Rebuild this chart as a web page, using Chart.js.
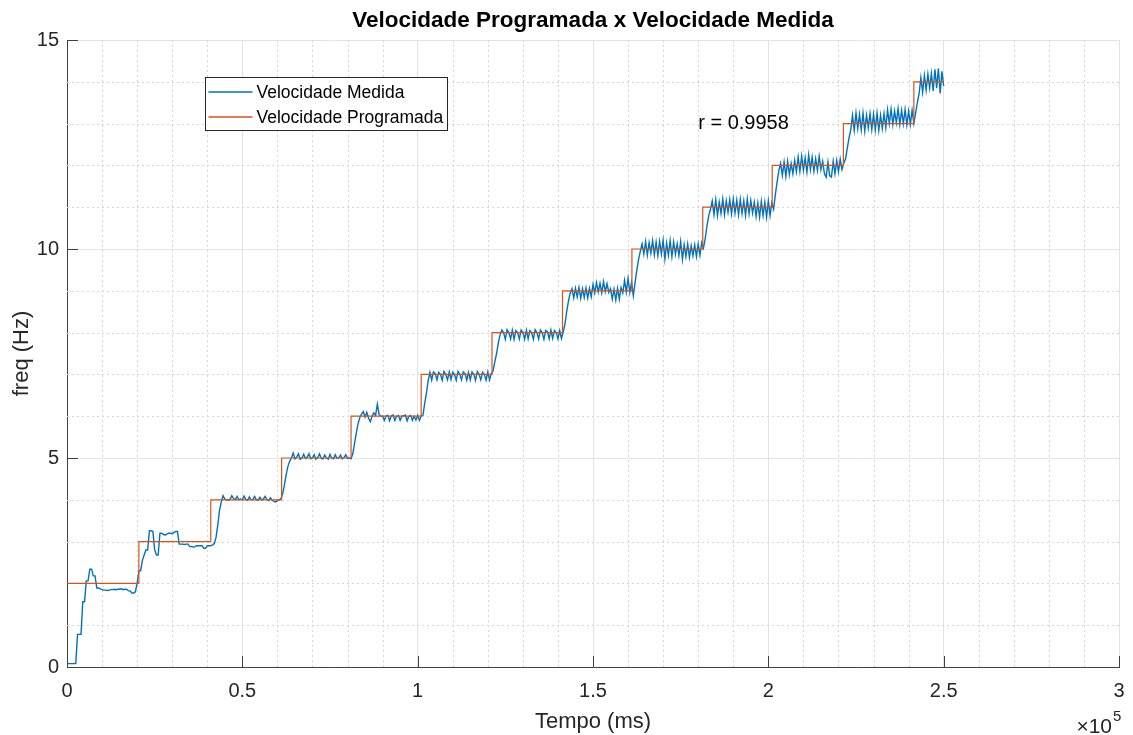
<!DOCTYPE html>
<html>
<head>
<meta charset="utf-8">
<title>Velocidade Programada x Velocidade Medida</title>
<script src="https://cdn.jsdelivr.net/npm/chart.js@4.4.1/dist/chart.umd.min.js"></script>
<style>
  html, body { margin: 0; padding: 0; background: #fff; }
  canvas { display: block; }
</style>
</head>
<body>
<canvas id="velocidadeChart" width="1133" height="735"></canvas>
<script>
// Velocidade programada (degraus): instante de cada degrau em ms e valor em Hz
const degrausTempo = [0, 20500, 41000, 61200, 81000, 101000, 121200, 141300, 161100, 181300, 201100, 221400, 241500, 250000];
const degrausValor = [2, 3, 4, 5, 6, 7, 8, 9, 10, 11, 12, 13, 14, 14];

// Velocidade medida, uma amostra a cada 500 ms (cada linha = 10 s)
const passoAmostra = 500;
const medida = [
  0.08, 0.08, 0.08, 0.08, 0.08, 0.08, 0.78, 0.78, 0.78, 1.56, 1.56, 2.06, 2.06, 2.34, 2.34, 2.18, 2.18, 1.89, 1.89, 1.87,
  1.85, 1.84, 1.84, 1.83, 1.84, 1.85, 1.85, 1.86, 1.85, 1.86, 1.86, 1.87, 1.85, 1.86, 1.86, 1.82, 1.82, 1.77, 1.77, 1.80,
  2.00, 2.30, 2.30, 2.55, 2.68, 2.80, 2.80, 3.26, 3.26, 3.24, 2.80, 2.68, 2.68, 3.20, 3.20, 3.17, 3.16, 3.18, 3.20, 3.20,
  3.19, 3.22, 3.24, 3.24, 2.94, 2.94, 2.94, 2.93, 2.94, 2.94, 2.88, 2.88, 2.87, 2.88, 2.90, 2.90, 2.90, 2.90, 2.84, 2.84,
  2.90, 2.90, 2.90, 2.92, 2.95, 3.10, 3.40, 3.75, 3.95, 4.10, 4.02, 4.00, 3.99, 4.01, 4.10, 4.03, 4.00, 4.08, 4.00, 4.02,
  4.00, 4.09, 4.01, 3.99, 4.07, 4.00, 4.01, 4.08, 4.00, 3.99, 4.06, 4.00, 4.02, 4.08, 4.00, 3.98, 4.05, 3.99, 3.96, 3.95,
  3.98, 4.00, 4.02, 4.15, 4.35, 4.60, 4.80, 4.92, 5.00, 5.12, 4.98, 5.02, 5.10, 4.97, 5.00, 5.09, 4.99, 5.02, 5.10, 4.98,
  5.00, 5.08, 4.97, 5.01, 5.10, 4.99, 4.98, 5.07, 5.00, 4.97, 5.09, 5.00, 4.98, 5.08, 4.99, 5.00, 5.07, 4.98, 5.01, 5.08,
  4.99, 5.00, 4.98, 5.10, 5.35, 5.60, 5.82, 5.97, 6.05, 6.11, 5.98, 6.09, 5.95, 5.87, 6.00, 6.08, 6.02, 6.29, 6.04, 6.00,
  6.00, 5.90, 6.01, 6.02, 5.89, 6.01, 6.03, 5.90, 6.00, 6.02, 5.90, 6.00, 6.01, 6.03, 5.89, 6.00, 6.02, 5.90, 6.00, 5.91,
  6.02, 5.90, 6.00, 6.02, 6.30, 6.55, 6.85, 7.05, 6.86, 7.06, 7.02, 6.87, 7.05, 7.00, 6.86, 7.07, 7.00, 6.87, 7.06, 6.88,
  7.05, 7.00, 6.86, 7.07, 7.00, 6.87, 7.06, 7.02, 6.86, 7.05, 6.87, 7.06, 7.00, 6.86, 7.07, 7.01, 6.87, 7.05, 7.00, 6.86,
  7.06, 6.87, 7.02, 7.08, 7.30, 7.50, 7.75, 7.95, 8.06, 8.00, 7.84, 8.07, 8.00, 7.85, 8.06, 7.84, 8.05, 8.00, 7.85, 8.06,
  8.00, 7.84, 8.06, 7.85, 8.05, 8.00, 7.84, 8.07, 8.00, 7.85, 8.06, 8.00, 7.84, 8.05, 8.02, 7.85, 8.06, 7.86, 8.05, 8.00,
  7.85, 8.05, 7.86, 8.02, 8.20, 8.50, 8.75, 8.95, 9.05, 8.83, 9.06, 8.85, 9.08, 8.82, 9.05, 8.84, 9.07, 8.83, 9.06, 8.86,
  9.15, 8.95, 9.20, 8.97, 9.18, 8.95, 9.22, 8.98, 9.17, 8.96, 9.05, 8.80, 9.04, 8.78, 9.06, 8.80, 9.08, 8.95, 9.25, 8.97,
  9.30, 8.96, 9.20, 8.88, 9.20, 9.50, 9.75, 9.95, 10.12, 9.88, 10.18, 9.85, 10.15, 9.90, 10.20, 9.86, 10.16, 9.84, 10.18, 9.88,
  10.21, 9.76, 10.14, 9.85, 10.20, 9.82, 10.17, 9.87, 10.12, 9.84, 10.18, 9.75, 10.10, 9.82, 10.12, 9.80, 10.08, 9.84, 10.10, 9.82,
  10.12, 9.85, 10.15, 10.02, 10.25, 10.55, 10.80, 10.95, 11.15, 10.82, 11.18, 10.80, 11.12, 10.85, 11.20, 10.82, 11.15, 10.88, 11.18, 10.84,
  11.20, 10.86, 11.17, 10.82, 11.19, 10.85, 11.15, 10.80, 11.20, 10.84, 11.16, 10.86, 11.12, 10.78, 11.10, 10.76, 11.14, 10.80, 11.12, 10.76,
  11.15, 10.80, 11.10, 10.95, 11.30, 11.60, 11.88, 12.05, 11.76, 12.08, 11.74, 12.10, 11.78, 12.05, 11.80, 12.12, 11.85, 12.20, 11.86, 12.22,
  11.88, 12.18, 11.84, 12.25, 11.90, 12.20, 11.86, 12.16, 11.88, 12.22, 11.90, 12.10, 11.80, 11.72, 12.08, 11.75, 11.72, 12.10, 11.80, 12.12,
  11.85, 12.15, 11.90, 12.05, 12.15, 12.40, 12.65, 12.85, 13.20, 12.84, 13.25, 12.88, 13.22, 12.85, 13.25, 12.82, 13.20, 12.90, 13.24, 12.86,
  13.22, 12.85, 13.25, 12.84, 13.20, 12.88, 13.24, 12.90, 13.33, 13.00, 13.35, 12.98, 13.30, 13.02, 13.36, 12.98, 13.32, 13.00, 13.34, 12.97,
  13.30, 12.98, 13.32, 13.00, 13.25, 13.50, 13.72, 14.10, 13.75, 14.15, 13.80, 14.18, 13.85, 14.20, 13.78, 14.30, 13.85, 14.32, 13.72, 14.25,
  13.90
];
const tempoMedida = medida.map((_, i) => i * passoAmostra);

// Ticks e grade
const ticksX = [0, 50000, 100000, 150000, 200000, 250000, 300000];
const ticksY = [0, 5, 10, 15];
const gradeMenorX = [10000, 20000, 30000, 40000, 60000, 70000, 80000, 90000, 110000, 120000, 130000, 140000,
  160000, 170000, 180000, 190000, 210000, 220000, 230000, 240000, 260000, 270000, 280000, 290000];
const gradeMenorY = [1, 2, 3, 4, 6, 7, 8, 9, 11, 12, 13, 14];

const coefCorrelacao = 'r = 0.9958';

const FONTE = "'Liberation Sans', Arial, Helvetica, sans-serif";
const corEixo = '#404040';
const corTexto = '#262626';
const corMedida = '#0072BD';
const corProgramada = '#D95319';

Chart.defaults.font.family = FONTE;

// grade secundaria pontilhada, marcas internas, titulo, legenda e anotacoes
const estiloMatlab = {
  id: 'estiloMatlab',
  beforeDatasetsDraw(chart) {
    const { ctx, chartArea: a, scales: { x, y } } = chart;
    ctx.save();
    ctx.strokeStyle = '#d6d6d6';
    ctx.lineWidth = 1;
    ctx.setLineDash([2, 3]);
    gradeMenorX.forEach(v => {
      const px = Math.round(x.getPixelForValue(v)) + 0.5;
      ctx.beginPath();
      ctx.moveTo(px, a.top);
      ctx.lineTo(px, a.bottom);
      ctx.stroke();
    });
    gradeMenorY.forEach(v => {
      const py = Math.round(y.getPixelForValue(v)) + 0.5;
      ctx.beginPath();
      ctx.moveTo(a.left, py);
      ctx.lineTo(a.right, py);
      ctx.stroke();
    });
    ctx.restore();
  },
  afterDatasetsDraw(chart) {
    const { ctx, chartArea: a, scales: { x, y } } = chart;
    ctx.save();
    ctx.strokeStyle = corEixo;
    ctx.lineWidth = 1;
    ticksX.forEach(v => {
      const px = Math.round(x.getPixelForValue(v)) + 0.5;
      ctx.beginPath();
      ctx.moveTo(px, a.bottom);
      ctx.lineTo(px, a.bottom - 11);
      ctx.stroke();
    });
    ticksY.forEach(v => {
      const py = Math.round(y.getPixelForValue(v)) + 0.5;
      ctx.beginPath();
      ctx.moveTo(a.left, py);
      ctx.lineTo(a.left + 11, py);
      ctx.stroke();
    });
    ctx.restore();
  },
  afterDraw(chart) {
    const { ctx, chartArea: a, scales: { x, y } } = chart;
    const ds = chart.data.datasets;
    ctx.save();

    // titulo
    ctx.fillStyle = '#000';
    ctx.font = 'bold 22.5px ' + FONTE;
    ctx.textAlign = 'center';
    ctx.textBaseline = 'middle';
    ctx.fillText('Velocidade Programada x Velocidade Medida', (a.left + a.right) / 2, 21);

    // legenda
    const lx = 205.5, ly = 77.5, lw = 242, lh = 53;
    ctx.fillStyle = '#fff';
    ctx.fillRect(lx, ly, lw, lh);
    ctx.strokeStyle = corTexto;
    ctx.lineWidth = 1;
    ctx.strokeRect(lx, ly, lw, lh);
    ctx.font = '17.5px ' + FONTE;
    ctx.textAlign = 'left';
    ds.forEach((d, i) => {
      const yy = ly + 14.5 + i * 25;
      ctx.strokeStyle = d.borderColor;
      ctx.lineWidth = 1.3;
      ctx.beginPath();
      ctx.moveTo(lx + 3, yy);
      ctx.lineTo(lx + 47, yy);
      ctx.stroke();
      ctx.fillStyle = '#000';
      ctx.fillText(d.label, lx + 51, yy + 1.5);
    });

    // coeficiente de correlacao
    ctx.font = '20px ' + FONTE;
    ctx.fillStyle = '#000';
    ctx.fillText(coefCorrelacao, x.getPixelForValue(180000), y.getPixelForValue(13));

    // multiplicador do eixo x
    ctx.fillStyle = corTexto;
    ctx.textAlign = 'right';
    ctx.font = '21px ' + FONTE;
    ctx.fillText('\u00d710', a.right - 7, 727);
    ctx.textAlign = 'left';
    ctx.font = '15px ' + FONTE;
    ctx.fillText('5', a.right - 6, 717);
    ctx.restore();
  }
};

function createVelocidadeChart() {
  const ctx = document.getElementById('velocidadeChart').getContext('2d');
  new Chart(ctx, {
    type: 'line',
    data: {
      datasets: [{
        label: 'Velocidade Medida',
        data: tempoMedida.map((t, i) => ({ x: t, y: medida[i] })),
        borderColor: corMedida,
        borderWidth: 1.4,
        pointRadius: 0,
        tension: 0,
        fill: false,
        order: 2
      }, {
        label: 'Velocidade Programada',
        data: degrausTempo.map((t, i) => ({ x: t, y: degrausValor[i] })),
        borderColor: corProgramada,
        borderWidth: 1.2,
        pointRadius: 0,
        stepped: true,
        fill: false,
        order: 1
      }]
    },
    options: {
      responsive: false,
      animation: false,
      devicePixelRatio: 1,
      layout: { padding: { top: 40, right: 14, bottom: 0, left: 0 } },
      plugins: {
        legend: { display: false },
        title: { display: false },
        tooltip: { enabled: false }
      },
      scales: {
        x: {
          type: 'linear',
          min: 0,
          max: 300000,
          afterFit: s => { s.height = 68; s.paddingLeft = 0; s.paddingRight = 0; },
          afterBuildTicks: s => { s.ticks = ticksX.map(v => ({ value: v })); },
          ticks: {
            callback: v => String(v / 100000),
            color: corTexto,
            font: { size: 20 },
            padding: 12,
            maxRotation: 0
          },
          grid: { color: '#e3e3e3', lineWidth: 1, drawTicks: false },
          border: { color: corEixo, width: 1 },
          title: {
            display: true,
            text: 'Tempo (ms)',
            color: corTexto,
            font: { size: 22 },
            padding: { top: 0, bottom: 0 }
          }
        },
        y: {
          min: 0,
          max: 15,
          afterFit: s => { s.width = 67; s.paddingTop = 0; s.paddingBottom = 0; },
          afterBuildTicks: s => { s.ticks = ticksY.map(v => ({ value: v })); },
          ticks: {
            color: corTexto,
            font: { size: 20 },
            padding: 8
          },
          grid: { color: '#e3e3e3', lineWidth: 1, drawTicks: false },
          border: { color: corEixo, width: 1 },
          title: {
            display: true,
            text: 'freq (Hz)',
            color: corTexto,
            font: { size: 22 },
            padding: { top: 9, bottom: 0 }
          }
        }
      }
    },
    plugins: [estiloMatlab]
  });
}

createVelocidadeChart();
</script>
</body>
</html>
